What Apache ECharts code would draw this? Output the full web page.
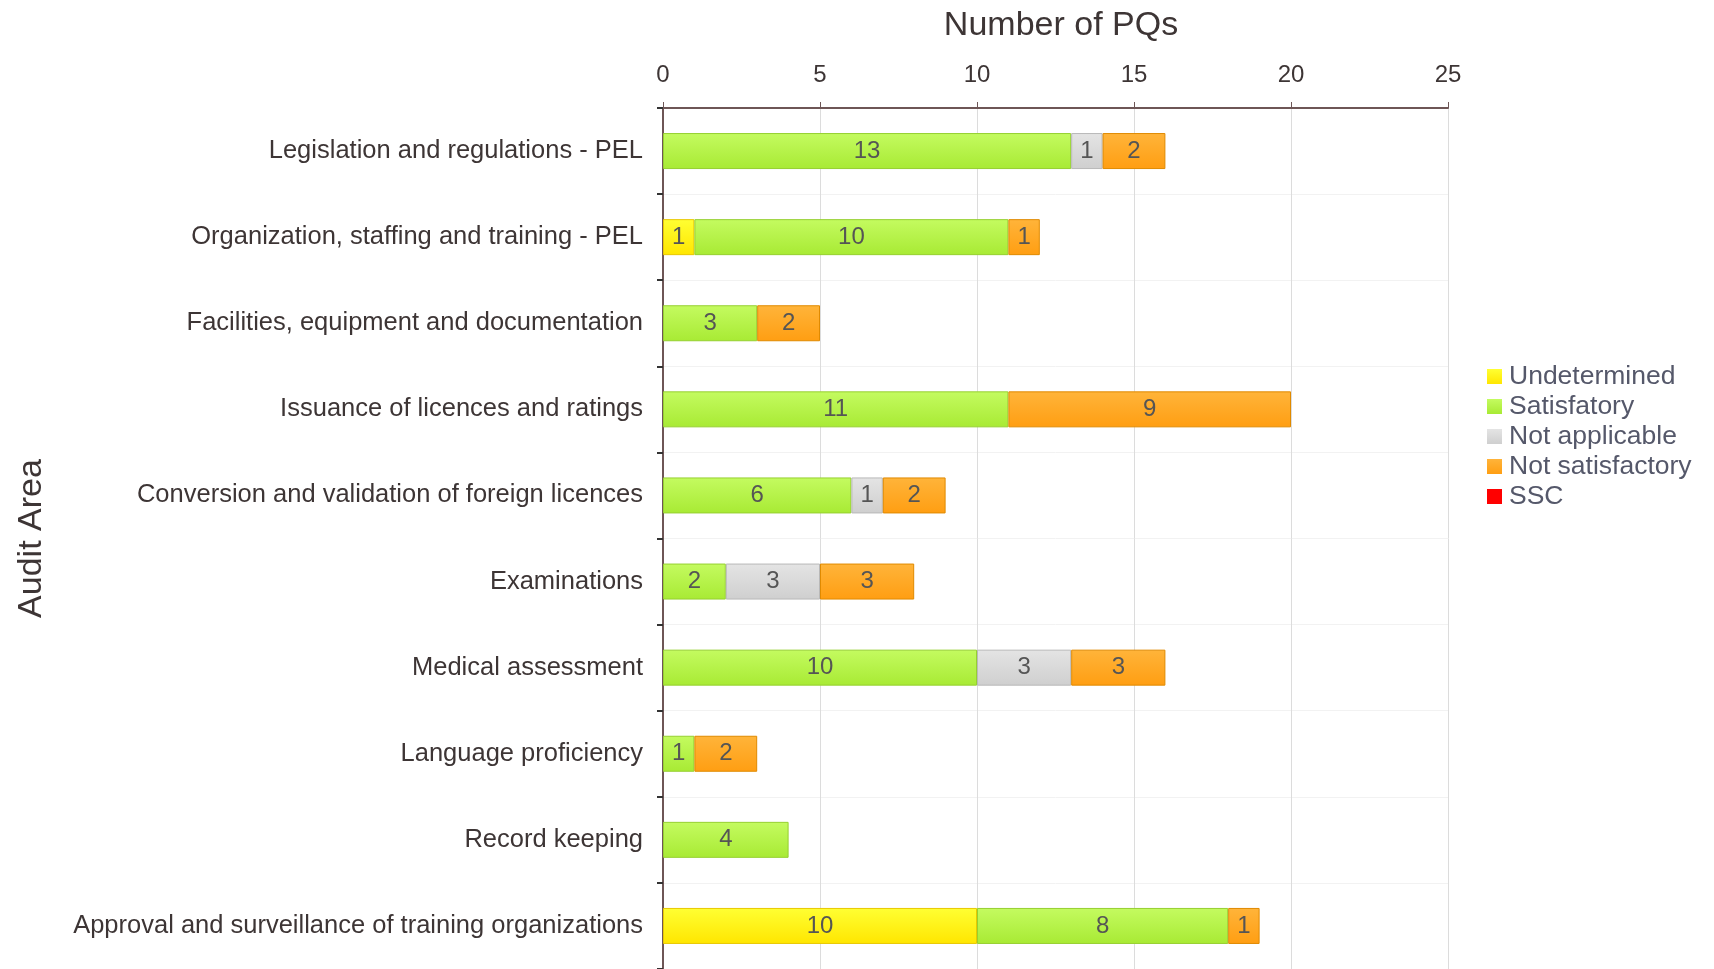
<!DOCTYPE html>
<html>
<head>
<meta charset="utf-8">
<script src="https://cdn.jsdelivr.net/npm/echarts@6/dist/echarts.min.js"></script>
<style>
  html, body { margin: 0; padding: 0; background: #fff; }
  #chart { width: 1714px; height: 969px; }
</style>
</head>
<body>
<div id="chart"></div>
<script>
// audit areas, top to bottom
const categories = [
  'Legislation and regulations - PEL',
  'Organization, staffing and training - PEL',
  'Facilities, equipment and documentation',
  'Issuance of licences and ratings',
  'Conversion and validation of foreign licences',
  'Examinations',
  'Medical assessment',
  'Language proficiency',
  'Record keeping',
  'Approval and surveillance of training organizations'
]

const undetermined    = [0, 1, 0, 0, 0, 0, 0, 0, 0, 10]
const satisfactory    = [13, 10, 3, 11, 6, 2, 10, 1, 4, 8]
const notApplicable   = [1, 0, 0, 0, 1, 3, 3, 0, 0, 0]
const notSatisfactory = [2, 1, 2, 9, 2, 3, 3, 2, 0, 1]
const ssc             = [0, 0, 0, 0, 0, 0, 0, 0, 0, 0]

const xTicks = [0, 5, 10, 15, 20, 25]

const font = "'Liberation Sans', Arial, sans-serif"
const textColor = '#3d3535'

// vertical gradient, lighter on top like the original bars
function grad(top, bottom) {
  return new echarts.graphic.LinearGradient(0, 0, 0, 1, [
    { offset: 0, color: top },
    { offset: 1, color: bottom }
  ])
}

function makeSeries(name, data, color, border) {
  return {
    name: name,
    type: 'bar',
    stack: 'total',
    barWidth: 36,
    // zero counts get no segment at all (otherwise a border line shows)
    data: data.map((v) => (v ? v : null)),
    itemStyle: { color: color, borderColor: border, borderWidth: 1 },
    label: {
      show: true,
      position: 'inside',
      fontFamily: font,
      fontSize: 24,
      color: '#555',
      formatter: (p) => (p.value ? p.value : '')
    },
    emphasis: { disabled: true }
  }
}

const chart = echarts.init(document.getElementById('chart'))

chart.setOption({
  animation: false,
  textStyle: { fontFamily: font },
  grid: { left: 663, right: 266, top: 108, bottom: 0, containLabel: false },
  title: {
    text: 'Number of PQs',
    left: 1056,
    textAlign: 'center',
    top: 4,
    textStyle: { fontFamily: font, fontSize: 34, fontWeight: 'normal', color: textColor }
  },
  legend: {
    orient: 'vertical',
    left: 1482,
    top: 358,
    itemWidth: 15,
    itemHeight: 15,
    itemGap: 3,
    icon: 'rect',
    itemStyle: { borderWidth: 0 },
    textStyle: { fontFamily: font, fontSize: 26.5, color: '#55586a', padding: [0, 0, 0, 2] },
    data: ['Undetermined', 'Satisfatory', 'Not applicable', 'Not satisfactory', 'SSC']
  },
  xAxis: {
    type: 'value',
    position: 'top',
    min: 0,
    max: 25,
    interval: 5,
    axisLine: { show: true, lineStyle: { color: '#6e5656', width: 2 } },
    axisTick: { show: true, length: 6, lineStyle: { color: '#6e5656', width: 1 } },
    axisLabel: {
      fontFamily: font, fontSize: 24, color: textColor, margin: 21,
      formatter: (v) => (xTicks.includes(v) ? String(v) : '')
    },
    splitLine: { show: true, lineStyle: { color: '#dcdcdc', width: 1 } }
  },
  yAxis: {
    type: 'category',
    inverse: true,
    data: categories,
    name: 'Audit Area',
    nameLocation: 'middle',
    nameGap: 614,
    nameTextStyle: { fontFamily: font, fontSize: 34, color: textColor },
    axisLine: { show: true, lineStyle: { color: '#6e5656', width: 2 } },
    axisTick: { show: true, length: 6, lineStyle: { color: '#333', width: 2 } },
    axisLabel: { fontFamily: font, fontSize: 25.5, color: textColor, margin: 20 },
    splitLine: { show: true, lineStyle: { color: '#f2f2f2', width: 1 } }
  },
  series: [
    makeSeries('Undetermined', undetermined, grad('#ffff33', '#ffe600'), '#e8c800'),
    makeSeries('Satisfatory', satisfactory, grad('#c4fb60', '#a8ea34'), '#96d030'),
    makeSeries('Not applicable', notApplicable, grad('#e4e4e4', '#cfcfcf'), '#b8b8b8'),
    makeSeries('Not satisfactory', notSatisfactory, grad('#ffb43a', '#ff9e12'), '#e08a00'),
    makeSeries('SSC', ssc, '#ff0000', '#dd0000')
  ]
})
</script>
</body>
</html>
